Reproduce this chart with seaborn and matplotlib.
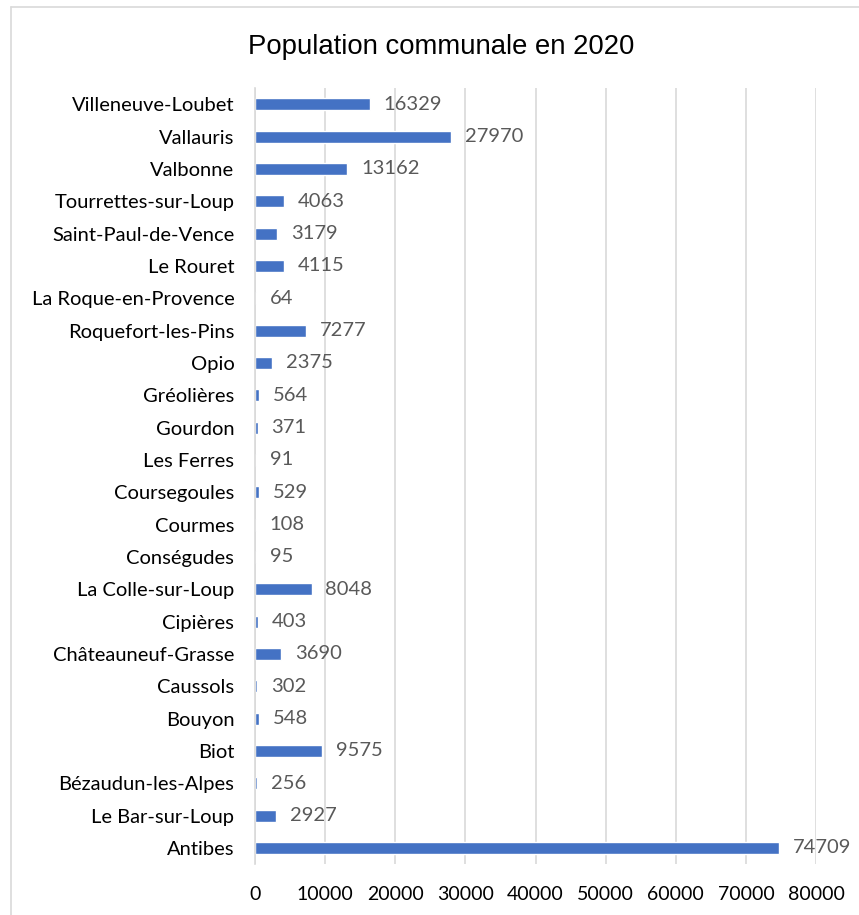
import matplotlib.pyplot as plt
import seaborn as sns
import pandas as pd
from matplotlib.lines import Line2D

communes = ["Villeneuve-Loubet", "Vallauris", "Valbonne", "Tourrettes-sur-Loup",
            "Saint-Paul-de-Vence", "Le Rouret", "La Roque-en-Provence",
            "Roquefort-les-Pins", "Opio", "Gréolières", "Gourdon", "Les Ferres",
            "Coursegoules", "Courmes", "Conségudes", "La Colle-sur-Loup",
            "Cipières", "Châteauneuf-Grasse", "Caussols", "Bouyon", "Biot",
            "Bézaudun-les-Alpes", "Le Bar-sur-Loup", "Antibes"]
population = [16329, 27970, 13162, 4063, 3179, 4115, 64, 7277, 2375, 564, 371,
              91, 529, 108, 95, 8048, 403, 3690, 302, 548, 9575, 256, 2927, 74709]
xticks = [0, 10000, 20000, 30000, 40000, 50000, 60000, 70000, 80000]

df = pd.DataFrame({"commune": communes, "population": population})

sns.set_style("white")
plt.rcParams['font.family'] = ['Lato', 'DejaVu Sans']

fig = plt.figure(figsize=(8.59, 9.15), dpi=100)
ax = fig.add_axes([0.297, 0.0557, 0.653, 0.848])

sns.barplot(data=df, x="population", y="commune", color="#4472C4",
            width=0.37, saturation=1, ax=ax)

ax.set_xlim(0, 80000)
ax.set_xticks(xticks)
ax.xaxis.grid(True, color="#d9d9d9", linewidth=1.2)
ax.set_axisbelow(True)
for s in ["top", "right", "bottom"]:
    ax.spines[s].set_visible(False)
ax.spines["left"].set_color("#d9d9d9")
ax.spines["left"].set_linewidth(1.2)
ax.tick_params(axis="both", length=0, colors="black")
ax.tick_params(axis="x", pad=16, labelsize=14)
ax.tick_params(axis="y", pad=15, labelsize=14.5)
ax.set_xlabel("")
ax.set_ylabel("")

for i, v in enumerate(population):
    ax.annotate(str(v), (v, i), xytext=(10, 0), textcoords="offset points",
                va="center", ha="left", fontsize=14.5, color="#595959")

fig.text(0.514, 0.949, "Population communale en 2020", ha="center", va="center",
         fontsize=19.8, family="Liberation Sans", color="black")

# cadre du graphique
fig.add_artist(Line2D([11 / 859, 11 / 859], [0, 1 - 7 / 915], color="#d9d9d9",
                      linewidth=1.2, transform=fig.transFigure))
fig.add_artist(Line2D([11 / 859, 1], [1 - 7 / 915, 1 - 7 / 915], color="#d9d9d9",
                      linewidth=1.2, transform=fig.transFigure))

fig.savefig("out.png", dpi=100, facecolor="white")
